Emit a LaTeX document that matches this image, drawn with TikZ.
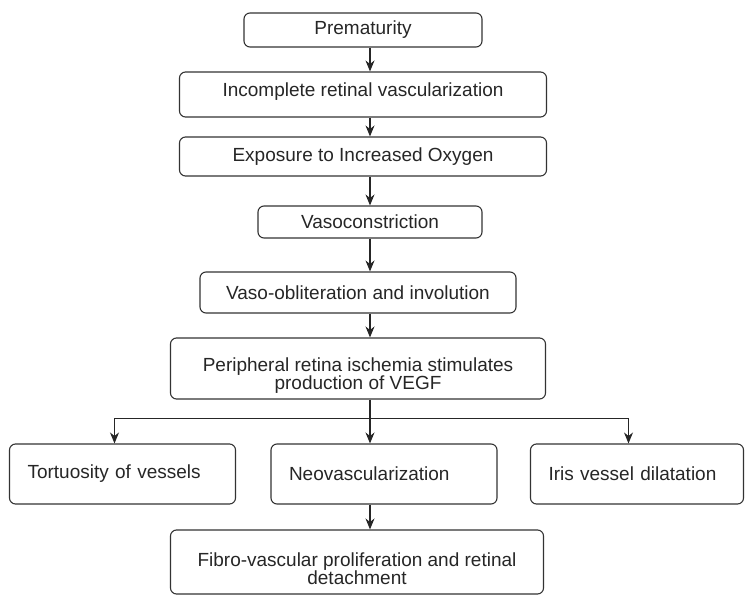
\documentclass[tikz,border=0pt]{standalone}
\usepackage{fontspec}
\setmainfont{Liberation Sans}
\usetikzlibrary{arrows.meta}

\begin{document}
\begin{tikzpicture}[x=1pt,y=1pt]
      \tikzset{
        every node/.style={rectangle,rounded corners=6pt,draw=black!80,line width=1.1pt,
          text=black!85,inner sep=0pt,align=center,font=\fontsize{19}{18.5}\selectfont},
        branch/.style={minimum height=60pt,text width=190pt,inner xsep=18pt,align=left},
        arr/.style={-{Stealth[length=11pt,width=9pt]},line width=1.1pt,draw=black!85}
      }
      \useasboundingbox (0,0) rectangle (745,-596);

      \node[minimum width=238pt,minimum height=34pt] (prem) at (363,-30) {Prematurity};
      \node[below of=prem,node distance=64.5pt,minimum width=367pt,minimum height=45pt,text depth=10pt] (incomp) {Incomplete retinal vascularization};
      \node[below of=incomp,node distance=62pt,minimum width=367pt,minimum height=39pt] (expo) {Exposure to Increased Oxygen};
      \node[below of=expo,node distance=65.5pt,xshift=7pt,minimum width=224pt,minimum height=32pt] (vaso) {Vasoconstriction};
      \node[below of=vaso,node distance=70.5pt,xshift=-12pt,minimum width=316pt,minimum height=41pt] (oblit) {Vaso-obliteration and involution};
      \node[below of=oblit,node distance=76pt,minimum width=375pt,minimum height=61pt,text height=46pt] (periph) {Peripheral retina ischemia stimulates\\production of VEGF};
      \node[branch,below of=periph,node distance=105.5pt,xshift=26pt] (neo) {Neovascularization};
      \node[branch,left of=neo,node distance=261.5pt] (tort) {Tortuosity of vessels};
      \node[branch,right of=neo,node distance=253pt,text width=177pt] (iris) {Iris vessel dilatation};
      \node[below of=neo,node distance=88pt,xshift=-27pt,minimum width=373pt,minimum height=64pt,text height=46pt] (fibro) {Fibro-vascular proliferation and retinal\\detachment};

      \coordinate (spine) at (370,0);
      \path (periph.south -| spine) ++(0,-19) coordinate (split);

      \foreach \a/\b in {prem/incomp,incomp/expo,expo/vaso,vaso/oblit,oblit/periph,periph/neo,neo/fibro}
        \draw[arr] (\a.south -| spine) -- (\b.north -| spine);
      \draw[arr] (split) -| ([xshift=-8pt]tort.north);
      \draw[arr] (split) -| ([xshift=-8.5pt]iris.north);
    \end{tikzpicture}
\end{document}
